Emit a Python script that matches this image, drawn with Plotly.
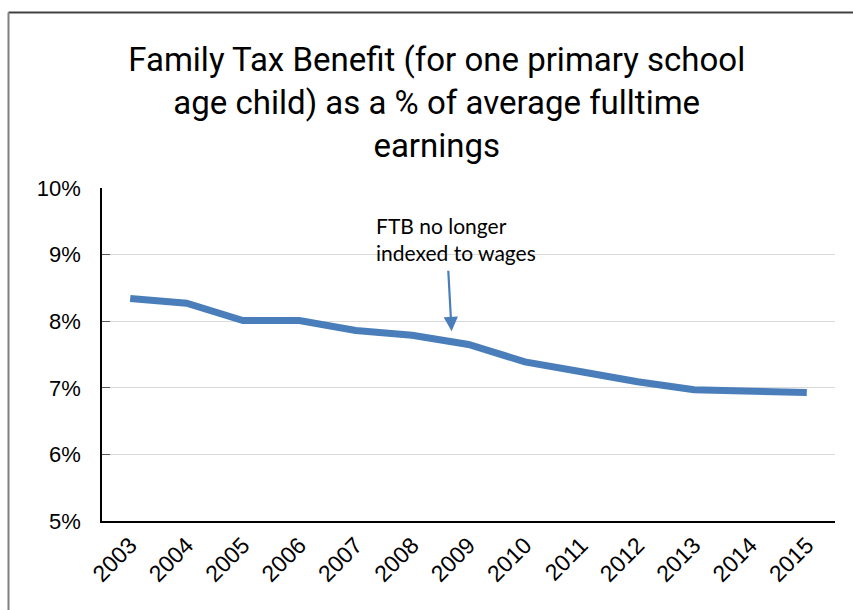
import plotly.graph_objects as go

years = ["2003", "2004", "2005", "2006", "2007", "2008", "2009", "2010",
         "2011", "2012", "2013", "2014", "2015"]
ftb_pct = [8.34, 8.27, 8.01, 8.01, 7.86, 7.79, 7.65, 7.39, 7.24, 7.09, 6.97, 6.95, 6.93]
y_ticks = [5, 6, 7, 8, 9, 10]
y_tick_labels = ["5%", "6%", "7%", "8%", "9%", "10%"]

fig = go.Figure()
fig.add_trace(go.Scatter(
    x=list(range(len(years))), y=ftb_pct, mode="lines",
    line=dict(color="#4a7ebb", width=7),
    hoverinfo="skip", showlegend=False,
))

L, R, T, B = 102, 18, 188, 89
W, H = 853, 610

fig.update_layout(
    width=W, height=H,
    margin=dict(l=L, r=R, t=T, b=B),
    paper_bgcolor="white", plot_bgcolor="white",
    title=dict(
        text="Family Tax Benefit (for one primary school<br>age child) as a % of average fulltime<br>earnings",
        font=dict(family="Roboto", size=33, color="black"),
        x=0.512, xanchor="center", y=1 - 71 / 610, yanchor="middle", yref="container",
    ),
    xaxis=dict(
        range=[-0.5, len(years) - 0.5],
        tickmode="array", tickvals=list(range(len(years))), ticktext=years,
        tickangle=-45, tickfont=dict(family="Liberation Sans", size=23, color="black"),
        showgrid=False, zeroline=False,
        showline=True, linecolor="black", linewidth=1.5,
        ticks="", fixedrange=True,
    ),
    yaxis=dict(
        range=[5, 10],
        tickmode="array", tickvals=y_ticks, ticktext=y_tick_labels,
        tickfont=dict(family="Liberation Sans", size=22, color="black"),
        showgrid=True, gridcolor="#d9d9d9", gridwidth=1,
        zeroline=False,
        showline=True, linecolor="black", linewidth=1.5,
        ticks="inside", ticklen=8, tickcolor="#595959",
        ticklabelstandoff=15, fixedrange=True,
    ),
    annotations=[
        dict(
            text="FTB no longer<br>indexed to wages",
            x=(374 - L) / (W - L - R), y=(H - B - 211) / (H - B - T),
            xref="paper", yref="paper", xanchor="left", yanchor="top",
            align="left", showarrow=False,
            font=dict(family="Lato", size=21, color="black"),
        ),
        dict(
            x=5.7, y=7.85, ax=5.64, ay=8.78,
            xref="x", yref="y", axref="x", ayref="y",
            text="", showarrow=True, arrowhead=2, arrowsize=1.3,
            arrowwidth=2.2, arrowcolor="#4a7ebb",
        ),
    ],
    shapes=[
        dict(type="line", xref="paper", yref="paper",
             x0=(8.5 - L) / (W - L - R), x1=(W + 5 - L) / (W - L - R),
             y0=(H - B - 12.5) / (H - B - T), y1=(H - B - 12.5) / (H - B - T),
             line=dict(color="#404040", width=2)),
        dict(type="line", xref="paper", yref="paper",
             x0=(8.5 - L) / (W - L - R), x1=(8.5 - L) / (W - L - R),
             y0=(H - B - 12.5) / (H - B - T), y1=(H - B - H - 5) / (H - B - T),
             line=dict(color="#808080", width=2)),
    ],
)

fig.write_html("out.html")
